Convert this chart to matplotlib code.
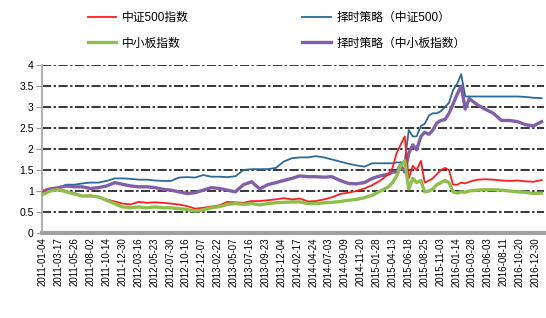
import matplotlib
matplotlib.use('Agg')
import matplotlib.pyplot as plt

plt.rcParams['font.family'] = ['Liberation Sans', 'Noto Sans CJK SC']

# 交易日序号（约每47个交易日一个刻度）
days = [0, 21, 45, 69, 93, 116, 140, 164, 188, 212, 235, 259, 283, 307, 331, 355,
        378, 402, 426, 450, 474, 498, 522, 545, 569, 593, 617, 641, 665, 689, 712,
        736, 760, 784, 807, 831, 855, 879, 903, 927, 951, 974, 998, 1022, 1034,
        1046, 1058, 1070, 1082, 1094, 1105, 1118, 1129, 1142, 1153, 1165, 1177,
        1189, 1201, 1213, 1225, 1237, 1249, 1261, 1285, 1308, 1332, 1356, 1380,
        1404, 1427, 1451, 1475]

zz500 = [0.98, 1.02, 1.05, 1.0, 0.95, 0.88, 0.9, 0.85, 0.8, 0.75, 0.7, 0.68, 0.74,
         0.72, 0.73, 0.72, 0.7, 0.68, 0.64, 0.58, 0.6, 0.63, 0.66, 0.74, 0.73, 0.72,
         0.76, 0.76, 0.78, 0.8, 0.83, 0.8, 0.82, 0.75, 0.76, 0.8, 0.85, 0.93, 0.96,
         1.0, 1.06, 1.14, 1.25, 1.4, 1.55, 1.9, 2.1, 2.3, 1.3, 1.6, 1.5, 1.72, 1.2,
         1.25, 1.3, 1.4, 1.5, 1.55, 1.5, 1.15, 1.15, 1.2, 1.18, 1.22, 1.27, 1.28,
         1.27, 1.25, 1.24, 1.25, 1.23, 1.22, 1.26]

zxb = [0.92, 1.0, 1.03, 0.98, 0.93, 0.88, 0.88, 0.86, 0.78, 0.7, 0.62, 0.6, 0.62,
       0.6, 0.62, 0.6, 0.6, 0.58, 0.56, 0.52, 0.55, 0.6, 0.63, 0.68, 0.7, 0.68, 0.7,
       0.67, 0.7, 0.72, 0.73, 0.74, 0.74, 0.7, 0.7, 0.72, 0.73, 0.75, 0.78, 0.8,
       0.84, 0.9, 1.0, 1.1, 1.2, 1.35, 1.6, 1.72, 1.05, 1.3, 1.2, 1.25, 0.98, 1.0,
       1.05, 1.15, 1.2, 1.25, 1.2, 0.98, 0.95, 0.98, 0.97, 1.0, 1.02, 1.03, 1.03,
       1.02, 1.0, 0.98, 0.97, 0.94, 0.95]

timing_zz500 = [1.0, 1.03, 1.08, 1.15, 1.15, 1.18, 1.2, 1.2, 1.24, 1.3, 1.3, 1.29,
                1.27, 1.27, 1.25, 1.24, 1.24, 1.32, 1.33, 1.32, 1.38, 1.34, 1.34,
                1.33, 1.35, 1.5, 1.52, 1.52, 1.52, 1.55, 1.7, 1.78, 1.8, 1.8, 1.83,
                1.8, 1.75, 1.7, 1.65, 1.61, 1.58, 1.66, 1.66, 1.66, 1.66, 1.68, 1.68,
                1.7, 2.45, 2.3, 2.3, 2.55, 2.6, 2.8, 2.85, 2.85, 2.9, 3.0, 3.1, 3.4,
                3.55, 3.78, 3.25, 3.25, 3.25, 3.25, 3.25, 3.25, 3.25, 3.25, 3.24,
                3.22, 3.21]

timing_zxb = [1.0, 1.05, 1.08, 1.12, 1.1, 1.1, 1.06, 1.08, 1.12, 1.2, 1.16, 1.12,
              1.1, 1.1, 1.08, 1.04, 1.02, 0.98, 0.94, 0.96, 1.02, 1.08, 1.06, 1.02,
              0.98, 1.15, 1.22, 1.05, 1.15, 1.2, 1.25, 1.3, 1.36, 1.34, 1.34, 1.33,
              1.34, 1.25, 1.18, 1.17, 1.2, 1.3, 1.36, 1.4, 1.45, 1.45, 1.62, 1.45,
              1.9, 2.1, 1.98, 2.3, 2.4, 2.35, 2.45, 2.62, 2.68, 2.7, 2.85, 3.07, 3.3,
              3.5, 2.95, 3.2, 3.05, 2.95, 2.85, 2.68, 2.68, 2.65, 2.58, 2.55, 2.65]

tick_days = [47 * i for i in range(32)]
tick_labels = ['2011-01-04', '2011-03-17', '2011-05-26', '2011-08-02', '2011-10-14',
               '2011-12-30', '2012-03-16', '2012-05-23', '2012-07-30', '2012-10-16',
               '2012-12-07', '2013-02-22', '2013-05-07', '2013-07-16', '2013-09-23',
               '2013-12-04', '2014-02-17', '2014-04-24', '2014-07-03', '2014-09-09',
               '2014-11-20', '2015-01-28', '2015-04-13', '2015-06-18', '2015-08-25',
               '2015-11-03', '2016-01-14', '2016-03-28', '2016-06-03', '2016-08-11',
               '2016-10-20', '2016-12-30']

fig = plt.figure(figsize=(5.46, 3.18), dpi=100)
ax = fig.add_axes([42 / 546, 85 / 318, 502 / 546, 168 / 318])

# 网格线（点划线）
for v in [0.5, 1, 1.5, 2, 2.5, 3, 3.5, 4]:
    ax.axhline(v, color='black', lw=1.1, linestyle=(0, (6, 1.6, 1.6, 1.6)), zorder=1)

ax.plot(days, zz500, color='#FF1E1E', lw=1.3, label='中证500指数', zorder=3)
ax.plot(days, zxb, color='#8DC04A', lw=2.4, label='中小板指数', zorder=3)
ax.plot(days, timing_zz500, color='#2A6A9C', lw=1.3, label='择时策略（中证500）', zorder=2)
ax.plot(days, timing_zxb, color='#8060AA', lw=2.4, label='择时策略（中小板指数）', zorder=2)

ax.set_xlim(-3, 1482)
ax.set_ylim(0, 4)
ax.set_yticks([0, 0.5, 1, 1.5, 2, 2.5, 3, 3.5, 4])
ax.set_yticklabels(['0', '0.5', '1', '1.5', '2', '2.5', '3', '3.5', '4'])
ax.set_xticks(tick_days)
ax.set_xticklabels(tick_labels, rotation=90, fontsize=7)
ax.tick_params(axis='y', labelsize=7.5, length=4, color='#999999', pad=2)
ax.tick_params(axis='x', length=0, pad=3)

for s in ['top', 'right']:
    ax.spines[s].set_visible(False)
ax.spines['left'].set_color('#B0B0B0')
ax.spines['left'].set_linewidth(1.5)
ax.spines['bottom'].set_color('#A0A0A0')
ax.spines['bottom'].set_linewidth(3)

fig.legend(loc='upper left', bbox_to_anchor=(88 / 546, 1 - 12 / 318), ncol=2,
           frameon=False, fontsize=8.5, handlelength=2.4, handletextpad=0.5,
           columnspacing=9.6, labelspacing=1.15, borderpad=0, borderaxespad=0)

fig.savefig('out.png', dpi=100)
